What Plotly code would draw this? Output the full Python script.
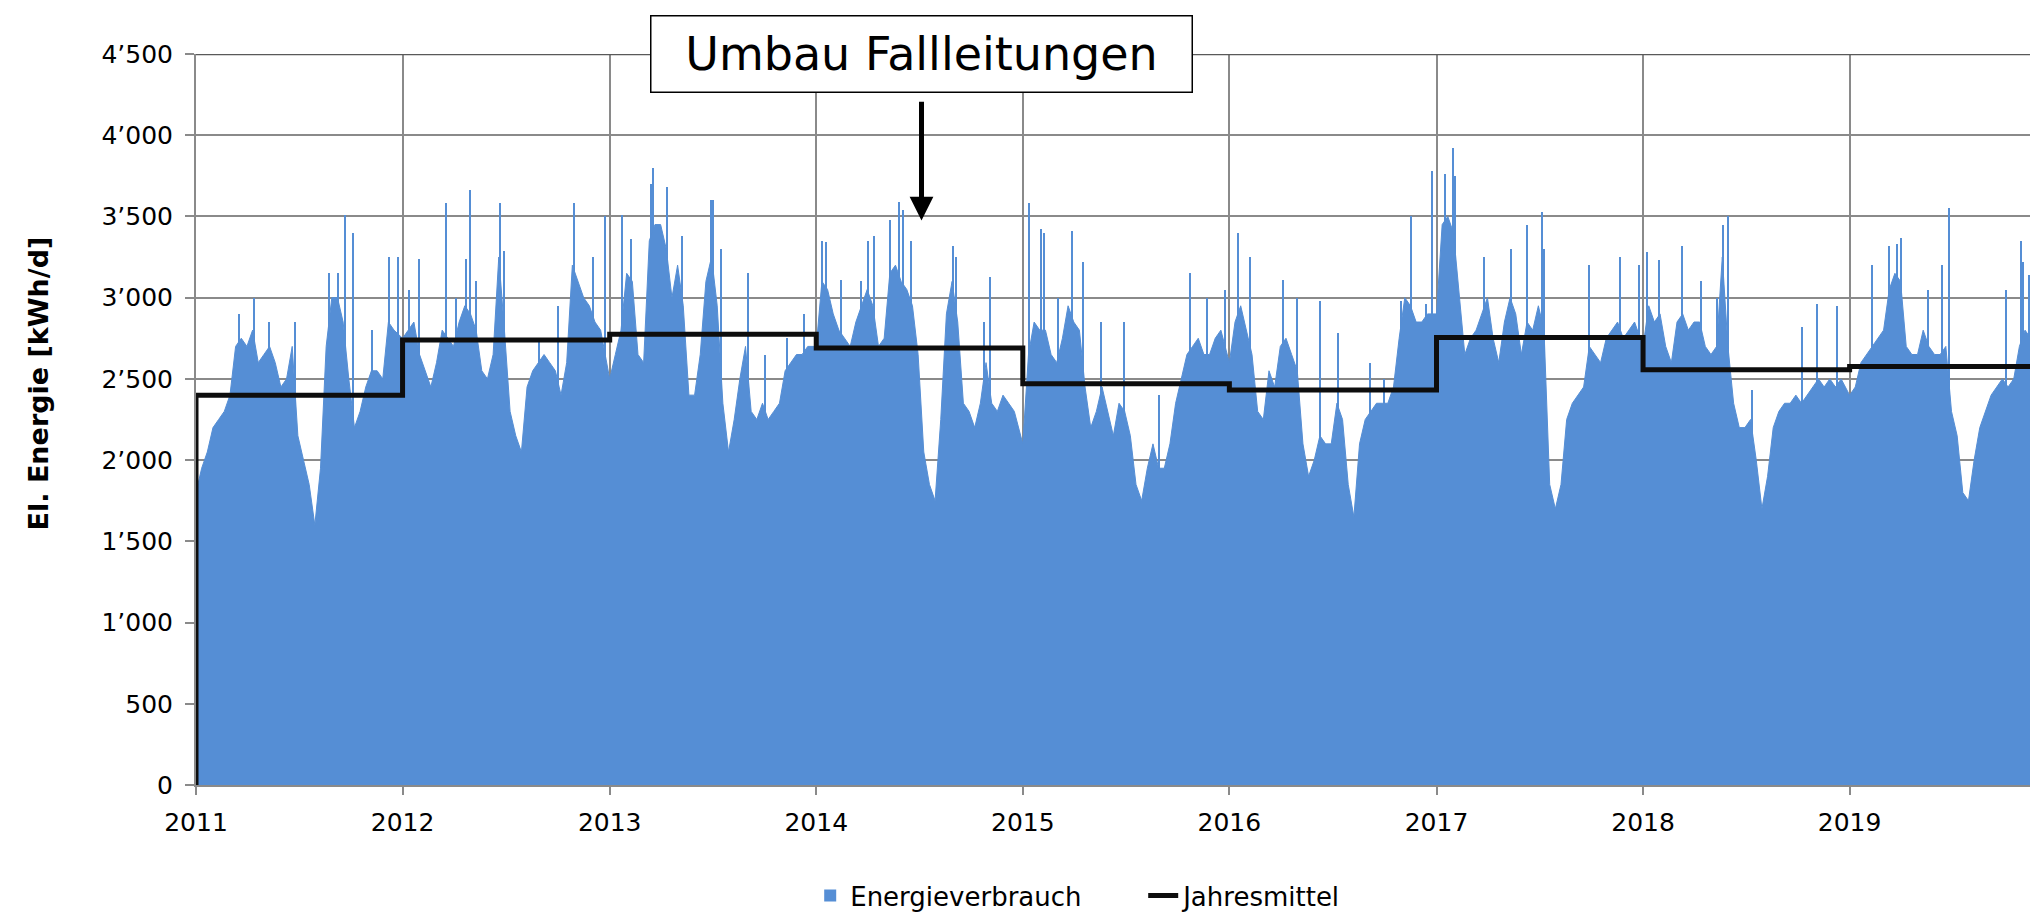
import plotly.graph_objects as go
import pandas as pd

# ---------------- data ----------------
years = [2011, 2012, 2013, 2014, 2015, 2016, 2017, 2018, 2019]
step_days = 10  # one reading every ~10 days

energy_2011 = [1800, 1950, 2050, 2200, 2250, 2300, 2400, 2700, 2750, 2700, 2800, 2600,
               2650, 2700, 2600, 2450, 2500, 2700, 2150, 2000, 1850, 1600, 1950, 2700,
               3000, 3000, 2850, 2500, 2200, 2300, 2450, 2550, 2550, 2500, 2850, 2800]
energy_2012 = [2750, 2800, 2850, 2650, 2550, 2450, 2600, 2800, 2750, 2700, 2850, 2950,
               2900, 2800, 2550, 2500, 2650, 3250, 2800, 2300, 2150, 2050, 2450, 2550,
               2600, 2650, 2600, 2550, 2400, 2600, 3200, 3100, 3000, 2950, 2850, 2800]
energy_2013 = [2500, 2650, 2800, 3150, 3100, 2650, 2600, 3350, 3450, 3450, 3300, 3000,
               3200, 2950, 2400, 2400, 2650, 3100, 3250, 2950, 2350, 2050, 2250, 2500,
               2700, 2300, 2250, 2350, 2250, 2300, 2350, 2550, 2600, 2650, 2650, 2700]
energy_2014 = [2700, 3100, 3050, 2900, 2800, 2750, 2700, 2850, 2950, 3050, 2950, 2700,
               2750, 3150, 3200, 3100, 3050, 2950, 2650, 2050, 1850, 1750, 2250, 2900,
               3100, 2850, 2350, 2300, 2200, 2350, 2600, 2350, 2300, 2400, 2350, 2300]
energy_2015 = [2100, 2650, 2850, 2800, 2800, 2650, 2600, 2750, 2950, 2850, 2800, 2450,
               2200, 2300, 2450, 2300, 2150, 2350, 2300, 2150, 1850, 1750, 1950, 2100,
               1950, 1950, 2100, 2350, 2500, 2650, 2700, 2750, 2650, 2650, 2750, 2800]
energy_2016 = [2600, 2850, 2950, 2800, 2650, 2300, 2250, 2550, 2450, 2700, 2750, 2650,
               2550, 2100, 1900, 2000, 2150, 2100, 2100, 2350, 2250, 1850, 1650, 2100,
               2250, 2300, 2350, 2350, 2350, 2450, 2750, 3000, 2950, 2850, 2850, 2900]
energy_2017 = [2900, 3450, 3500, 3400, 3000, 2650, 2750, 2800, 2900, 3000, 2750, 2600,
               2850, 3000, 2900, 2650, 2850, 2800, 2950, 2800, 1850, 1700, 1850, 2250,
               2350, 2400, 2450, 2700, 2650, 2600, 2750, 2800, 2850, 2750, 2800, 2850]
energy_2018 = [2700, 2950, 2850, 2900, 2700, 2600, 2850, 2900, 2800, 2850, 2850, 2700,
               2650, 2700, 3250, 2700, 2350, 2200, 2200, 2250, 2000, 1700, 1900, 2200,
               2300, 2350, 2350, 2400, 2350, 2400, 2450, 2500, 2450, 2500, 2450, 2500]
energy_2019 = [2400, 2450, 2600, 2650, 2700, 2750, 2800, 3050, 3150, 3100, 2700, 2650,
               2650, 2800, 2700, 2650, 2650, 2700, 2300, 2150, 1800, 1750, 2000, 2200,
               2300, 2400, 2450, 2500, 2450, 2500, 2700, 2800, 2750, 2700, 2750, 2800]

# single-day peaks (day of year, kWh/d)
peak_day_2011 = [77, 102, 130, 175, 235, 252, 263, 277, 312, 341, 358]
peak_val_2011 = [2900, 3000, 2850, 2850, 3150, 3150, 3510, 3400, 2800, 3250, 3250]
peak_day_2012 = [11, 29, 77, 95, 113, 120, 130, 172, 179, 241, 274, 303, 336, 358]
peak_val_2012 = [3050, 3240, 3580, 3000, 3240, 3660, 3100, 3580, 3290, 2750, 2950, 3580, 3250, 3500]
peak_day_2013 = [22, 37, 73, 77, 102, 128, 179, 183, 197, 245, 274, 314, 343]
peak_val_2013 = [3510, 3360, 3700, 3800, 3680, 3380, 3600, 3600, 3300, 3150, 2650, 2750, 2900]
peak_day_2014 = [11, 18, 44, 80, 91, 102, 131, 146, 153, 168, 241, 248, 296, 307]
peak_val_2014 = [3350, 3340, 3110, 3100, 3350, 3380, 3480, 3590, 3540, 3350, 3320, 3250, 2850, 3130]
peak_day_2015 = [11, 33, 37, 62, 88, 106, 139, 179, 241, 296, 325, 358]
peak_val_2015 = [3580, 3420, 3400, 3000, 3410, 3220, 2850, 2850, 2400, 3150, 3000, 3050]
peak_day_2016 = [15, 37, 95, 120, 161, 193, 248, 274, 303, 321, 347, 358]
peak_val_2016 = [3400, 3250, 3110, 3000, 2980, 2780, 2600, 2500, 2980, 3500, 2960, 3780]
peak_day_2017 = [15, 29, 33, 84, 131, 161, 186, 190, 270, 325, 358]
peak_val_2017 = [3760, 3920, 3750, 3250, 3300, 3450, 3530, 3300, 3200, 3250, 3200]
peak_day_2018 = [7, 29, 69, 102, 131, 142, 150, 193, 281, 307, 343]
peak_val_2018 = [3280, 3230, 3320, 3100, 3000, 3450, 3500, 2430, 2820, 2960, 2950]
peak_day_2019 = [40, 69, 84, 91, 139, 164, 175, 277, 303, 307, 318]
peak_val_2019 = [3200, 3320, 3330, 3370, 3050, 3200, 3550, 3050, 3350, 3220, 3140]

jahresmittel = [2400, 2740, 2775, 2690, 2470, 2432, 2755, 2557, 2577]

y_tickvals = [0, 500, 1000, 1500, 2000, 2500, 3000, 3500, 4000, 4500]
y_ticktext = ["0", "500", "1\u2019000", "1\u2019500", "2\u2019000", "2\u2019500",
              "3\u2019000", "3\u2019500", "4\u2019000", "4\u2019500"]

y_title = "<b>El. Energie [kWh/d]</b>"
annotation_text = "Umbau Fallleitungen"
annotation_date = "2014-07-06"
arrow_tip_value = 3475
arrow_tail_value = 4215

# ---------------- build traces ----------------
energy_by_year = [energy_2011, energy_2012, energy_2013, energy_2014, energy_2015,
                  energy_2016, energy_2017, energy_2018, energy_2019]
peak_days = [peak_day_2011, peak_day_2012, peak_day_2013, peak_day_2014, peak_day_2015,
             peak_day_2016, peak_day_2017, peak_day_2018, peak_day_2019]
peak_vals = [peak_val_2011, peak_val_2012, peak_val_2013, peak_val_2014, peak_val_2015,
             peak_val_2016, peak_val_2017, peak_val_2018, peak_val_2019]

area_x, area_y = [], []
for yr, vals in zip(years, energy_by_year):
    start = pd.Timestamp(f"{yr}-01-01")
    for i, v in enumerate(vals):
        area_x.append(start + pd.Timedelta(days=step_days * i))
        area_y.append(v)

spike_x, spike_y = [], []
for yr, days, vals in zip(years, peak_days, peak_vals):
    start = pd.Timestamp(f"{yr}-01-01")
    for d, v in zip(days, vals):
        spike_x.append(start + pd.Timedelta(days=d))
        spike_y.append(v)

mean_x = [pd.Timestamp(f"{years[0]}-01-01")] + [pd.Timestamp(f"{yr}-01-01") for yr in years] \
    + [pd.Timestamp(f"{years[-1] + 1}-01-01")]
mean_y = [0] + jahresmittel + [jahresmittel[-1]]

BLUE = "#558ED5"
FONT = "DejaVu Sans"

fig = go.Figure()
fig.add_trace(go.Scatter(
    x=area_x, y=area_y, mode="lines", fill="tozeroy", fillcolor=BLUE,
    line=dict(color=BLUE, width=1), showlegend=False, hoverinfo="skip"))
fig.add_trace(go.Bar(
    x=spike_x, y=spike_y, name="Energieverbrauch", marker=dict(color=BLUE, line=dict(width=0)),
    width=2.2 * 86400000))
fig.add_trace(go.Scatter(
    x=mean_x, y=mean_y, mode="lines", name="Jahresmittel", line_shape="hv",
    line=dict(color="#0d0d0d", width=5)))

GRID = "#8a8a8a"
fig.update_layout(
    width=2038, height=916,
    margin=dict(l=188, r=0, t=46, b=139, autoexpand=False),
    paper_bgcolor="white", plot_bgcolor="white",
    font=dict(family=FONT, size=25, color="black"),
    barmode="overlay", bargap=0,
    xaxis=dict(
        type="date", range=["2011-01-01", "2019-12-14"],
        tick0="2011-01-01", dtick="M12", tickformat="%Y",
        showgrid=True, gridcolor=GRID, gridwidth=1.5,
        ticks="outside", ticklen=8, tickcolor=GRID, tickwidth=1.5,
        showline=True, linecolor=GRID, linewidth=2, automargin=False,
        tickfont=dict(size=25), ticklabelstandoff=6, zeroline=False),
    yaxis=dict(
        range=[0, 4500], tickvals=y_tickvals, ticktext=y_ticktext,
        showgrid=True, gridcolor=GRID, gridwidth=1.5,
        ticks="outside", ticklen=9, tickcolor=GRID, tickwidth=1.5,
        showline=True, linecolor=GRID, linewidth=2, automargin=False,
        tickfont=dict(size=25), ticklabelstandoff=7, zeroline=False),
    legend=dict(orientation="h", xref="paper", x=0.332, xanchor="left",
                yref="container", y=0.031, yanchor="middle",
                font=dict(size=26), entrywidth=288, entrywidthmode="pixels",
                bgcolor="rgba(0,0,0,0)"),
    shapes=[dict(type="line", xref="paper", yref="y", x0=0, x1=1, y0=4500, y1=4500,
                 line=dict(color="#595959", width=2.5))],
    annotations=[
        dict(x=-0.085, y=0.549, xref="paper", yref="paper", text=y_title, textangle=-90,
             showarrow=False, font=dict(size=27, color="black"),
             xanchor="center", yanchor="middle"),
        dict(x=annotation_date, y=4500, xref="x", yref="y", text=annotation_text,
             showarrow=False, font=dict(size=46, color="black"),
             bgcolor="white", bordercolor="black", borderwidth=1.5, borderpad=10,
             width=520, height=55, xanchor="center", yanchor="middle"),
        dict(x=annotation_date, y=arrow_tip_value, ax=annotation_date, ay=arrow_tail_value,
             xref="x", yref="y", axref="x", ayref="y", text="", showarrow=True,
             arrowhead=2, arrowsize=0.95, arrowwidth=5, arrowcolor="black"),
    ],
)

fig.write_html("out.html")
